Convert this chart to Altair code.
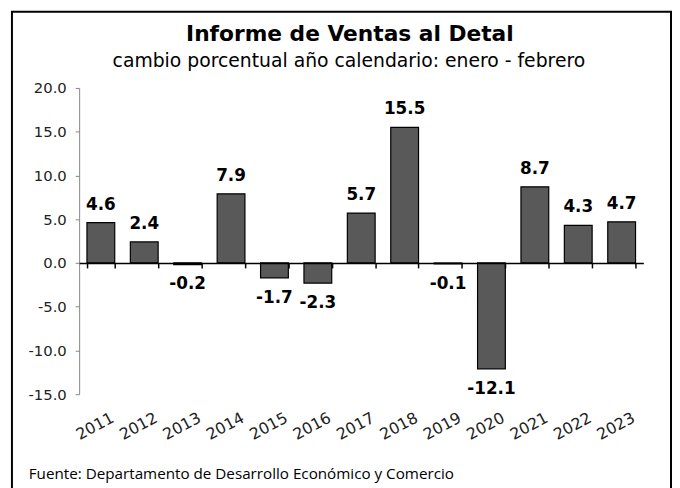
import altair as alt
import pandas as pd

years = ["2011", "2012", "2013", "2014", "2015", "2016", "2017",
         "2018", "2019", "2020", "2021", "2022", "2023"]
values = [4.6, 2.4, -0.2, 7.9, -1.7, -2.3, 5.7, 15.5, -0.1, -12.1, 8.7, 4.3, 4.7]
y_ticks = [-15, -10, -5, 0, 5, 10, 15, 20]
title_text = "Informe de Ventas al Detal"
subtitle_text = "cambio porcentual año calendario: enero - febrero"
source_text = "Fuente: Departamento de Desarrollo Económico y Comercio"

df = pd.DataFrame({"year": years, "value": values})

W, H = 571, 310
ymin, ymax = -15, 20
zero_offset = -(H - H * (ymax - 0) / (ymax - ymin))

FONT = "DejaVu Sans"
HYPHEN = "replace(format(datum.value, '.1f'), '\u2212', '-')"

x_main = alt.X(
    "year:N", sort=years, title=None,
    scale=alt.Scale(paddingInner=0.36, paddingOuter=0.18),
    axis=alt.Axis(orient="bottom", offset=zero_offset, labels=False,
                  domainColor="black", domainWidth=1.5,
                  tickColor="black", tickSize=5, tickWidth=1.5,
                  tickBand="extent", grid=False, zindex=1),
)
x_plain = alt.X("year:N", sort=years)
y_main = alt.Y(
    "value:Q", title=None,
    scale=alt.Scale(domain=[ymin, ymax], nice=False, zero=False),
    axis=alt.Axis(values=y_ticks, format=".1f", grid=False,
                  labelExpr="replace(datum.label, '\u2212', '-')",
                  domainColor="#868686", domainWidth=1,
                  tickColor="#868686", tickSize=4, labelPadding=9,
                  labelFont=FONT, labelFontSize=15, labelColor="#222222"),
)

base = alt.Chart(df).transform_calculate(label=HYPHEN)

bars = base.mark_bar(color="#595959", stroke="black", strokeWidth=1.2).encode(
    x=x_main, y=y_main
)

pos_labels = base.transform_filter("datum.value >= 0").mark_text(
    baseline="alphabetic", dy=-13, font=FONT, fontWeight="bold",
    fontSize=17, color="black"
).encode(x=x_plain, y=alt.Y("value:Q"), text="label:N")

neg_labels = base.transform_filter("datum.value < 0").mark_text(
    baseline="top", dy=12, font=FONT, fontWeight="bold",
    fontSize=17, color="black"
).encode(x=x_plain, y=alt.Y("value:Q"), text="label:N")

year_labels = base.mark_text(
    align="right", baseline="top", angle=332, dx=0, dy=18,
    font=FONT, fontSize=16, color="#222222"
).encode(x=x_plain, y=alt.datum(ymin), text="year:N")

one = alt.Data(values=[{}])

frame = alt.Chart(one).mark_rect(
    filled=False, color="black", strokeWidth=2
).encode(x=alt.value(-68), x2=alt.value(599), y=alt.value(-77), y2=alt.value(420))

title_mark = alt.Chart(one).mark_text(
    align="center", baseline="alphabetic", font=FONT, fontSize=22,
    fontWeight="bold", color="black", text=title_text
).encode(x=alt.value(274), y=alt.value(-47))

subtitle_mark = alt.Chart(one).mark_text(
    align="center", baseline="alphabetic", font=FONT, fontSize=19,
    color="black", text=subtitle_text
).encode(x=alt.value(273), y=alt.value(-21))

footer = alt.Chart(one).mark_text(
    align="left", baseline="alphabetic", font="Open Sans", fontSize=15.4,
    color="black", text=source_text
).encode(x=alt.value(-51), y=alt.value(396))

chart = alt.layer(
    frame, bars, pos_labels, neg_labels, year_labels,
    title_mark, subtitle_mark, footer
).properties(
    width=W, height=H,
    padding={"left": 72, "top": 78, "right": 29, "bottom": 92},
    autosize=alt.AutoSizeParams(type="none"),
    background="white",
).configure_view(stroke=None)

chart.save("out.html", embed_options={"renderer": "svg", "actions": False})
